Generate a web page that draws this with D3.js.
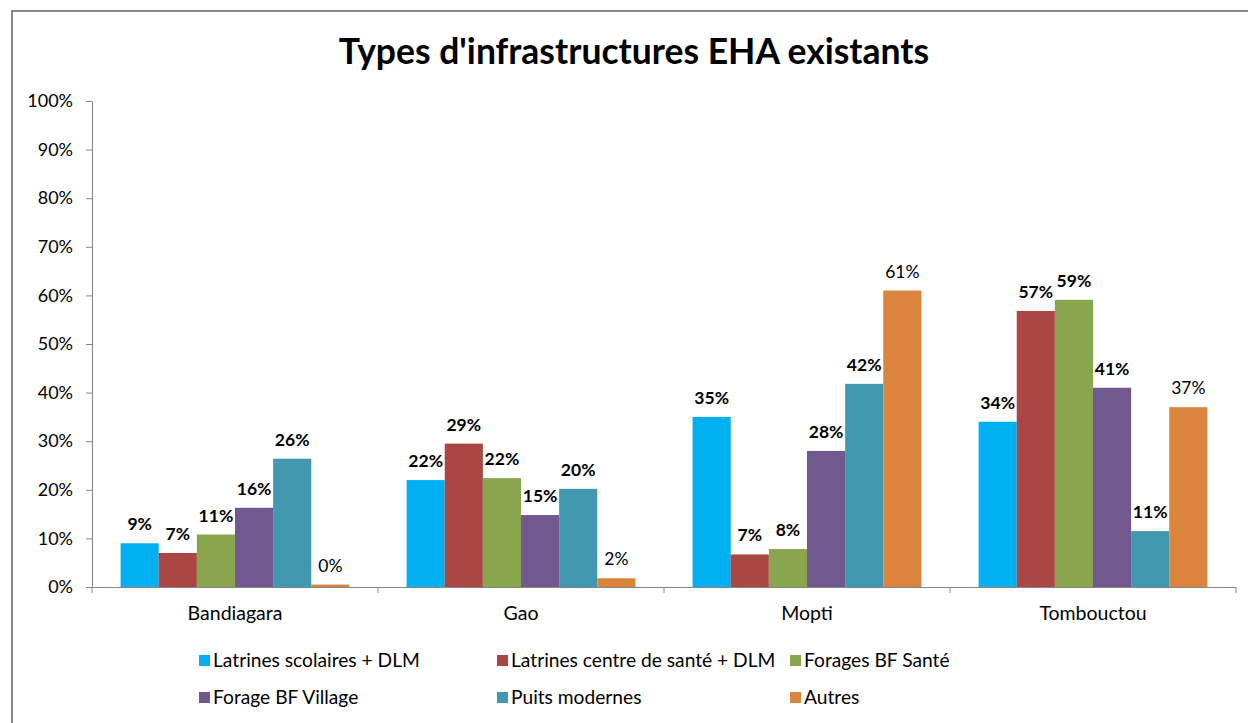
<!DOCTYPE html>
<html>
<head>
<meta charset="utf-8">
<script src="https://cdn.jsdelivr.net/npm/d3@7"></script>
<style>
  body { margin: 0; background: #fff; }
  svg { display: block; font-family: Lato, "Open Sans", sans-serif; }
</style>
</head>
<body>
<div class="chart-container"></div>
<script>
const categories = ["Bandiagara", "Gao", "Mopti", "Tombouctou"];
const seriesNames = [
  "Latrines scolaires + DLM",
  "Latrines centre de santé + DLM",
  "Forages BF Santé",
  "Forage BF Village",
  "Puits modernes",
  "Autres"
];
// one array per series, in the order of categories
const latrinesScolaires = [0.09, 0.22, 0.35, 0.34];
const latrinesSante     = [0.07, 0.295, 0.067, 0.568];
const foragesSante      = [0.108, 0.224, 0.078, 0.591];
const forageVillage     = [0.163, 0.148, 0.28, 0.41];
const puitsModernes     = [0.264, 0.202, 0.418, 0.115];
const autres            = [0.005, 0.018, 0.61, 0.37];
const labelTexts = [
  ["9%", "22%", "35%", "34%"],
  ["7%", "29%", "7%", "57%"],
  ["11%", "22%", "8%", "59%"],
  ["16%", "15%", "28%", "41%"],
  ["26%", "20%", "42%", "11%"],
  ["0%", "2%", "61%", "37%"]
];
const yTicks = [0, 0.1, 0.2, 0.3, 0.4, 0.5, 0.6, 0.7, 0.8, 0.9, 1.0];
const colors = ["#00B0F0", "#AA4643", "#89A54E", "#71588F", "#4198AF", "#DB843D"];

const seriesValues = [latrinesScolaires, latrinesSante, foragesSante, forageVillage, puitsModernes, autres];

const width = 1248, height = 723;
const margin = {top: 101, right: 12, bottom: 136, left: 92};

const svg = d3.select(".chart-container")
  .append("svg")
  .attr("width", width)
  .attr("height", height);

// chart border
svg.append("rect")
  .attr("x", 12).attr("y", 11)
  .attr("width", 1250).attr("height", 720)
  .attr("fill", "none")
  .attr("stroke", "#868686")
  .attr("stroke-width", 2);

// title
svg.append("text")
  .attr("x", 634).attr("y", 64)
  .attr("text-anchor", "middle")
  .attr("font-size", 35.5)
  .attr("font-weight", "bold")
  .attr("fill", "#000")
  .text("Types d'infrastructures EHA existants");

const x0 = d3.scaleBand()
  .domain(categories)
  .range([margin.left, width - margin.right])
  .padding(0);

const x1 = d3.scaleBand()
  .domain(seriesNames)
  .range([0, x0.bandwidth()])
  .paddingInner(0)
  .paddingOuter(0.75);

const y = d3.scaleLinear()
  .domain([0, 1])
  .range([height - margin.bottom, margin.top]);

// y axis
const yAxis = svg.append("g")
  .attr("transform", `translate(${margin.left},0)`)
  .call(d3.axisLeft(y).tickValues(yTicks).tickFormat(d3.format(".0%")).tickSize(6).tickSizeOuter(0));
yAxis.select(".domain").attr("stroke", "#868686");
yAxis.selectAll(".tick line").attr("stroke", "#868686");
yAxis.selectAll(".tick text")
  .attr("x", -19)
  .attr("font-size", 18)
  .attr("font-family", "Lato, sans-serif")
  .attr("fill", "#000");

// bars
const groups = svg.append("g")
  .selectAll("g")
  .data(seriesNames)
  .join("g")
  .attr("fill", (d, i) => colors[i]);

groups.selectAll("rect")
  .data((s, i) => categories.map((c, j) => ({cat: c, s: s, v: seriesValues[i][j]})))
  .join("rect")
  .attr("x", d => x0(d.cat) + x1(d.s))
  .attr("y", d => y(d.v))
  .attr("width", x1.bandwidth())
  .attr("height", d => y(0) - y(d.v));

// data labels
groups.selectAll("text")
  .data((s, i) => categories.map((c, j) => ({cat: c, s: s, i: i, v: seriesValues[i][j], t: labelTexts[i][j]})))
  .join("text")
  .attr("x", d => x0(d.cat) + x1(d.s) + x1.bandwidth() / 2)
  .attr("y", d => y(d.v) - 13)
  .attr("text-anchor", "middle")
  .attr("font-size", 17.5)
  .attr("font-weight", d => d.i === 5 ? "normal" : "bold")
  .attr("fill", "#000")
  .text(d => d.t);

// x axis
const xAxis = svg.append("g")
  .attr("transform", `translate(0,${y(0)})`)
  .call(d3.axisBottom(x0).tickSize(0).tickSizeOuter(0));
xAxis.select(".domain").attr("stroke", "#868686");
xAxis.selectAll(".tick text")
  .attr("dy", "1.55em")
  .attr("font-size", 19.5)
  .attr("font-family", "Lato, sans-serif")
  .attr("fill", "#000");
// category separator ticks
xAxis.append("g")
  .selectAll("line")
  .data(categories.concat([null]))
  .join("line")
  .attr("x1", d => d === null ? x0.range()[1] : x0(d))
  .attr("x2", d => d === null ? x0.range()[1] : x0(d))
  .attr("y1", 0).attr("y2", 6)
  .attr("stroke", "#868686");

// legend
const legendCols = [199, 497, 790];
const legendRows = [660, 697];
const legend = svg.append("g")
  .selectAll("g")
  .data(seriesNames)
  .join("g")
  .attr("transform", (d, i) => `translate(${legendCols[i % 3]},${legendRows[Math.floor(i / 3)]})`);
legend.append("rect")
  .attr("x", 0).attr("y", -5)
  .attr("width", 11).attr("height", 11)
  .attr("fill", (d, i) => colors[i]);
legend.append("text")
  .attr("x", 14)
  .attr("dy", "0.35em")
  .attr("font-size", 19.2)
  .attr("fill", "#000")
  .text(d => d);
</script>
</body>
</html>
